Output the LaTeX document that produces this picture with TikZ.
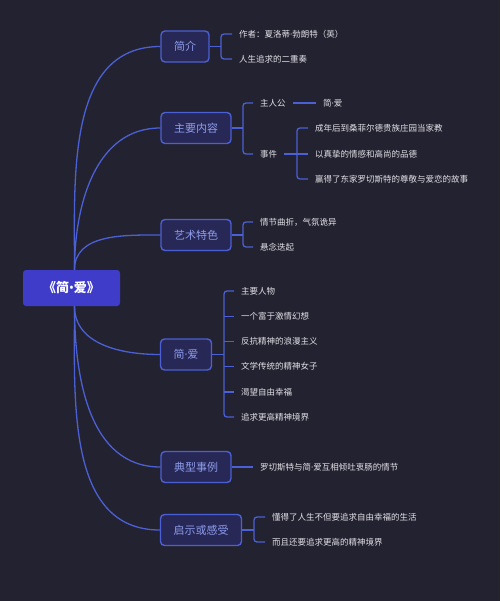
\documentclass[tikz,border=0pt]{standalone}
\usepackage{fontspec}
\setmainfont{Noto Sans CJK SC}
\newfontfamily\dotfont{Noto Sans}
\newcommand{\mdot}{{\dotfont ·}}
\newcommand{\bdot}{{\dotfont •}}
\usepackage{tikz}
\usetikzlibrary{positioning}
\definecolor{bgcol}{RGB}{35,34,48}
\definecolor{rootfill}{RGB}{62,60,200}
\definecolor{boxfill}{RGB}{40,40,86}
\definecolor{boxline}{RGB}{75,96,212}
\definecolor{boxtext}{RGB}{140,156,236}
\definecolor{leaftext}{RGB}{226,226,232}

\tikzset{
  rootbox/.style={fill=rootfill,rounded corners=3,minimum width=97,minimum height=36,
    text=white,font=\fontsize{13}{15}\selectfont\bfseries},
  topicbox/.style={draw=boxline,fill=boxfill,line width=1.4pt,rounded corners=4,
    minimum height=31,inner xsep=13,text=boxtext,font=\fontsize{11}{13}\selectfont},
  leaf/.style={anchor=west,inner xsep=7,inner ysep=2,text=leaftext,
    font=\fontsize{8.5}{10}\selectfont},
  branch/.style={draw=boxline,line width=1.3pt},
  bracket/.style={draw=boxline,line width=1.3pt,rounded corners=3}
}

\begin{document}
\begin{tikzpicture}[x=1pt,y=-1pt]
\fill[bgcol] (0,0) rectangle (500,601);
\useasboundingbox (0,0) rectangle (500,601);

% 中心
\node[rootbox] (root) at (71.5,288) {《简\bdot 爱》};

% 主题
\node[topicbox] (jianjie)  at (185,46.5) {简介};
\node[topicbox] (zhuyao)   at (196,128)  {主要内容};
\node[topicbox] (yishu)    at (196,235)  {艺术特色};
\node[topicbox] (jianai)   at (186,354.5) {简\mdot 爱};
\node[topicbox] (dianxing) at (196,467)  {典型事例};
\node[topicbox] (qishi)    at (201,530)  {启示或感受};

\foreach \t in {jianjie,zhuyao,yishu}
  \draw[branch] ([xshift=3]root.north) to[out=90,in=180] (\t.west);
\foreach \t in {jianai,dianxing,qishi}
  \draw[branch] ([xshift=3]root.south) to[out=-90,in=180] (\t.west);

% 简介
\node[leaf] (jj1) at (232,34) {作者：夏洛蒂\mdot 勃朗特（英）};
\node[leaf] (jj2) at (232,59) {人生追求的二重奏};
\coordinate (jj-b) at (221,46.5);
\draw[branch] (jianjie.east) -- (jj-b);
\draw[bracket] (jj1.west) -| (jj-b) |- (jj2.west);

% 主要内容
\node[leaf] (zy1) at (253,103) {主人公};
\node[leaf] (zy2) at (253,154) {事件};
\node[leaf] (zy1a) at (316,103) {简\mdot 爱};
\coordinate (zy-b) at (243,128);
\draw[branch] (zhuyao.east) -- (zy-b);
\draw[bracket] (zy1.west) -| (zy-b) |- (zy2.west);
\draw[branch] (zy1.east) -- (zy1a.west);

\node[leaf] (sj1) at (308,128) {成年后到桑菲尔德贵族庄园当家教};
\node[leaf] (sj2) at (308,154) {以真挚的情感和高尚的品德};
\node[leaf] (sj3) at (308,179) {赢得了东家罗切斯特的尊敬与爱恋的故事};
\coordinate (sj-b) at (297,154);
\draw[branch] (zy2.east) -- (sj2.west);
\draw[bracket] (sj1.west) -| (sj-b) |- (sj3.west);

% 艺术特色
\node[leaf] (ys1) at (253,222) {情节曲折，气氛诡异};
\node[leaf] (ys2) at (253,247) {悬念迭起};
\coordinate (ys-b) at (243,235);
\draw[branch] (yishu.east) -- (ys-b);
\draw[bracket] (ys1.west) -| (ys-b) |- (ys2.west);

% 简·爱
\node[leaf] (ja1) at (234,291)   {主要人物};
\node[leaf] (ja2) at (234,316.5) {一个富于激情幻想};
\node[leaf] (ja3) at (234,341.5) {反抗精神的浪漫主义};
\node[leaf] (ja4) at (234,366.5) {文学传统的精神女子};
\node[leaf] (ja5) at (234,392)   {渴望自由幸福};
\node[leaf] (ja6) at (234,417)   {追求更高精神境界};
\coordinate (ja-b) at (224,354.5);
\draw[branch] (jianai.east) -- (ja-b);
\draw[bracket] (ja1.west) -| (ja-b) |- (ja6.west);
\foreach \i in {2,...,5}
  \draw[branch] (ja\i.west) -- (ja\i.west -| ja-b);

% 典型事例
\node[leaf] (dx1) at (253,467) {罗切斯特与简\mdot 爱互相倾吐衷肠的情节};
\draw[branch] (dianxing.east) -- (dx1.west);

% 启示或感受
\node[leaf] (qs1) at (265,517) {懂得了人生不但要追求自由幸福的生活};
\node[leaf] (qs2) at (265,542) {而且还要追求更高的精神境界};
\coordinate (qs-b) at (254,530);
\draw[branch] (qishi.east) -- (qs-b);
\draw[bracket] (qs1.west) -| (qs-b) |- (qs2.west);
\end{tikzpicture}
\end{document}
